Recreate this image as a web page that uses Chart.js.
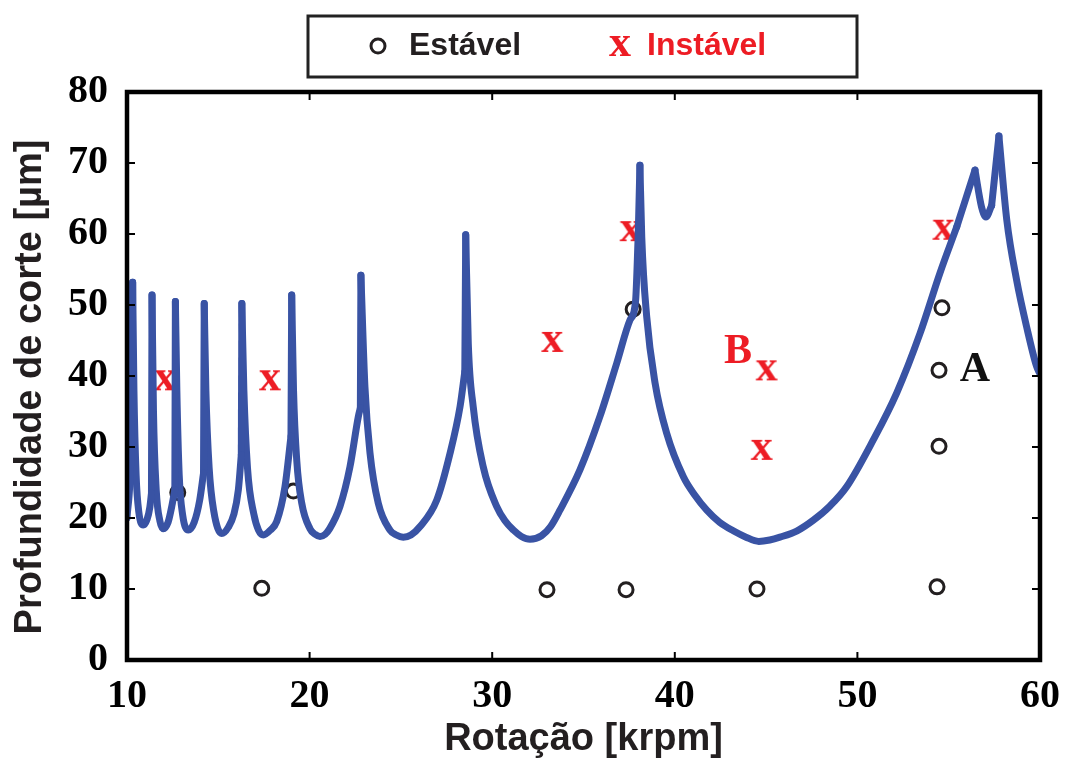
<!DOCTYPE html>
<html>
<head>
<meta charset="utf-8">
<script src="https://cdn.jsdelivr.net/npm/chart.js@4.4.1/dist/chart.umd.min.js"></script>
<style>
  body { margin: 0; background: #fff; }
  #wrap { width: 1067px; height: 763px; }
</style>
</head>
<body>
<div id="wrap"><canvas id="lobes" width="1067" height="763"></canvas></div>
<script>
// curva de estabilidade
const lobeX = [10.00, 10.20, 10.28, 10.31, 10.38, 10.50, 10.65, 10.89, 11.10, 11.25, 11.34, 11.37, 11.45, 11.60, 11.80,
  11.99, 12.25, 12.48, 12.62, 12.65, 12.73, 12.86, 13.05, 13.36, 13.68, 13.98, 14.19, 14.23, 14.32, 14.50, 14.75,
  15.19, 15.55, 15.85, 16.10, 16.26, 16.29, 16.40, 16.60, 16.95, 17.20, 17.47, 17.85, 18.20, 18.65, 18.98, 19.02, 19.12,
  19.30, 19.57, 20.02, 20.30, 20.57, 20.85, 21.10, 21.66, 22.21, 22.67, 22.78, 22.81, 23.03, 23.31, 23.76, 24.40, 24.75,
  25.13, 25.55, 26.05, 26.96, 27.69, 28.24, 28.50, 28.55, 28.69, 28.96, 29.51, 30.25, 30.70, 31.16, 31.60, 32.07, 32.70,
  33.20, 33.71, 34.81, 35.90, 36.82, 37.55, 37.85, 38.00, 38.09, 38.19, 38.46, 38.92, 39.56, 40.47, 41.10, 41.75, 42.45,
  43.20, 43.90, 44.60, 45.20, 45.76, 46.70, 47.59, 48.50, 49.41, 50.87, 52.15, 53.43, 54.52, 55.44, 56.44, 56.80, 57.04,
  57.35, 57.75, 58.18, 58.72, 59.27, 59.82, 60.00];
const lobeY = [20.0, 28.0, 40.0, 53.2, 38.0, 26.0, 20.8, 19.0, 19.8, 21.5, 23.5, 51.4, 35.0, 24.0, 19.6,
  18.5, 19.4, 22.0, 24.0, 50.5, 38.0, 26.0, 20.4, 18.3, 19.4, 22.5, 26.3, 50.2, 38.0, 27.0, 21.0,
  17.8, 18.7, 20.5, 24.0, 28.9, 50.2, 38.0, 27.0, 20.5, 18.3, 17.6, 18.3, 19.5, 24.4, 31.5, 51.4, 38.0,
  28.0, 22.1, 18.5, 17.7, 17.4, 17.7, 18.5, 21.6, 27.2, 34.3, 35.5, 54.2, 38.5, 29.1, 22.1, 18.3, 17.6,
  17.3, 17.6, 18.8, 22.5, 29.1, 35.7, 40.6, 59.9, 44.6, 35.7, 27.2, 21.6, 19.6, 18.3, 17.4, 17.0, 17.5,
  18.8, 21.1, 26.8, 34.3, 41.8, 47.9, 50.5, 60.1, 69.7, 59.6, 48.4, 39.0, 31.9, 25.8, 23.2, 21.1, 19.4,
  18.2, 17.3, 16.7, 16.9, 17.3, 18.2, 19.7, 21.7, 24.4, 31.0, 37.6, 46.0, 54.5, 61.0, 69.0, 63.8, 62.4,
  64.0, 73.8, 62.0, 53.5, 46.9, 41.3, 40.3];

// ensaios estáveis (o) e instáveis (x)
const stableX = [12.78, 19.11, 17.38, 33.00, 37.33, 37.72, 44.50, 54.63, 54.47, 54.47, 54.36];
const stableY = [23.6, 23.8, 10.1, 9.9, 9.9, 49.4, 10.0, 49.6, 40.8, 30.1, 10.3];
const unstableX = [12.08, 17.83, 33.29, 37.58, 45.03, 44.76, 54.71];
const unstableY = [39.4, 39.4, 44.8, 60.4, 40.8, 29.6, 60.6];

const xTicks = [10, 20, 30, 40, 50, 60];
const yTicks = [0, 10, 20, 30, 40, 50, 60, 70, 80];

// rótulos A e B
const labelText = ['B', 'A'];
const labelX = [43.46, 56.44];
const labelY = [43.4, 40.8];
const labelColor = ['#ED1C24', '#111'];

const RED = '#ED1C24';
const BLUE = '#3953A4';
const INK = '#231F20';

// marcador "x" em serifa, como no original
function makeXMark() {
  const c = document.createElement('canvas');
  c.width = 32; c.height = 32;
  const g = c.getContext('2d');
  g.font = 'bold 44px "Liberation Serif"';
  g.fillStyle = RED;
  g.textAlign = 'center';
  g.textBaseline = 'alphabetic';
  g.fillText('x', 16, 26);
  return c;
}
const xMark = makeXMark();

// quebra a curva nos picos: cada pico é um bico, o resto é suave
function splitAtPeaks(xs, ys) {
  const cuts = new Set();
  for (let i = 1; i < ys.length - 1; i++) {
    if (ys[i] > ys[i - 1] && ys[i] > ys[i + 1]) { cuts.add(i - 1); cuts.add(i); }
  }
  const pieces = [];
  let cur = [];
  xs.forEach((x, i) => {
    cur.push({ x: x, y: ys[i] });
    if (cuts.has(i) && cur.length > 1) { pieces.push(cur); cur = [{ x: x, y: ys[i] }]; }
  });
  if (cur.length > 1) pieces.push(cur);
  return pieces;
}

const lineSets = splitAtPeaks(lobeX, lobeY).map(pts => ({
  label: 'Limite',
  data: pts,
  showLine: true,
  borderColor: BLUE,
  borderWidth: 7,
  pointRadius: 0,
  cubicInterpolationMode: 'monotone',
  borderJoinStyle: 'round',
  borderCapStyle: 'round'
}));

const toPts = (xs, ys) => xs.map((x, i) => ({ x: x, y: ys[i] }));

const framePlugin = {
  id: 'frame',
  afterDatasetsDraw(chart) {
    const { ctx, chartArea: a, scales } = chart;
    ctx.save();
    // ticks para dentro
    ctx.strokeStyle = '#000';
    ctx.lineWidth = 2;
    const tl = 8;
    ctx.beginPath();
    scales.x.ticks.forEach(t => {
      const px = scales.x.getPixelForValue(t.value);
      ctx.moveTo(px, a.bottom); ctx.lineTo(px, a.bottom - tl);
      ctx.moveTo(px, a.top); ctx.lineTo(px, a.top + tl);
    });
    scales.y.ticks.forEach(t => {
      const py = scales.y.getPixelForValue(t.value);
      ctx.moveTo(a.left, py); ctx.lineTo(a.left + tl, py);
      ctx.moveTo(a.right, py); ctx.lineTo(a.right - tl, py);
    });
    ctx.stroke();
    // moldura
    ctx.lineWidth = 4.5;
    ctx.strokeRect(a.left, a.top, a.right - a.left, a.bottom - a.top);

    // A e B
    ctx.font = 'bold 42px "Liberation Serif"';
    ctx.textAlign = 'center';
    ctx.textBaseline = 'middle';
    labelText.forEach((s, i) => {
      ctx.fillStyle = labelColor[i];
      ctx.fillText(s, scales.x.getPixelForValue(labelX[i]), scales.y.getPixelForValue(labelY[i]));
    });
    ctx.restore();
  },
  afterDraw(chart) {
    const ctx = chart.ctx;
    ctx.save();
    // título do eixo y (um pouco abaixo do centro, como no original)
    ctx.save();
    ctx.translate(31, 387);
    ctx.rotate(-Math.PI / 2);
    ctx.font = 'bold 38px "Liberation Sans"';
    ctx.textAlign = 'center';
    ctx.textBaseline = 'middle';
    ctx.fillStyle = INK;
    ctx.fillText('Profundidade de corte [µm]', 0, 0);
    ctx.restore();

    // legenda em caixa
    ctx.strokeStyle = '#222';
    ctx.lineWidth = 3;
    ctx.strokeRect(308, 16, 549, 61);
    ctx.beginPath();
    ctx.arc(378, 46, 7, 0, Math.PI * 2);
    ctx.lineWidth = 3;
    ctx.strokeStyle = INK;
    ctx.stroke();
    ctx.font = 'bold 32px "Liberation Sans"';
    ctx.textBaseline = 'middle';
    ctx.textAlign = 'left';
    ctx.fillStyle = INK;
    ctx.fillText('Estável', 409, 46);
    ctx.drawImage(xMark, 620 - 16, 46 - 16);
    ctx.fillStyle = RED;
    ctx.fillText('Instável', 647, 46);
    ctx.restore();
  }
};

new Chart(document.getElementById('lobes'), {
  type: 'scatter',
  data: {
    datasets: [
      ...lineSets,
      {
        label: 'Estável',
        data: toPts(stableX, stableY),
        pointStyle: 'circle',
        pointRadius: 7,
        borderWidth: 3,
        borderColor: INK,
        backgroundColor: 'rgba(0,0,0,0)'
      },
      {
        label: 'Instável',
        data: toPts(unstableX, unstableY),
        pointStyle: xMark,
        pointRadius: 10
      }
    ]
  },
  options: {
    responsive: false,
    animation: false,
    layout: { padding: { top: 92, right: 27, left: 0, bottom: 0 } },
    plugins: {
      legend: { display: false },
      tooltip: { enabled: false }
    },
    scales: {
      x: {
        type: 'linear',
        min: 10,
        max: 60,
        afterBuildTicks: s => { s.ticks = xTicks.map(v => ({ value: v })); },
        afterFit: s => { s.height = 103; },
        grid: { display: false },
        border: { display: false },
        ticks: {
          color: '#000',
          padding: 5,
          font: { family: 'Liberation Serif', size: 40, weight: 'bold' }
        },
        title: {
          display: true,
          text: 'Rotação [krpm]',
          color: INK,
          padding: { top: 0, bottom: 1 },
          font: { family: 'Liberation Sans', size: 38, weight: 'bold' }
        }
      },
      y: {
        type: 'linear',
        min: 0,
        max: 80,
        afterBuildTicks: s => { s.ticks = yTicks.map(v => ({ value: v })); },
        afterFit: s => { s.width = 127; },
        grid: { display: false },
        border: { display: false },
        ticks: {
          color: '#000',
          padding: 11,
          font: { family: 'Liberation Serif', size: 40, weight: 'bold' }
        },
        title: { display: false }
      }
    }
  },
  plugins: [framePlugin]
});
</script>
</body>
</html>
